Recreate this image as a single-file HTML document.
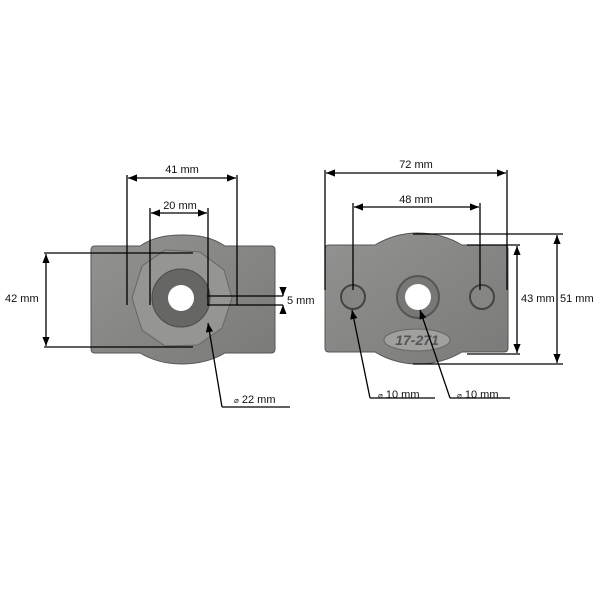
<!DOCTYPE html>
<html><head><style>
html,body{margin:0;padding:0;background:#fff;}
svg{display:block;}
text{font-family:"Liberation Sans",sans-serif;font-size:11px;fill:#111;}
</style></head><body>
<svg width="600" height="600" viewBox="0 0 600 600">
<defs>
<marker id="a" viewBox="0 0 10 10" refX="10" refY="5" markerWidth="7" markerHeight="7" orient="auto-start-reverse"><path d="M0,1 L10,5 L0,9 z" fill="#000"/></marker>
<linearGradient id="g" x1="0" y1="0" x2="1" y2="1"><stop offset="0" stop-color="#929290"/><stop offset="1" stop-color="#7a7a78"/></linearGradient>
</defs>
<!-- left plate -->
<path d="M95,246 H140 C155,236 170,235 182,235 C195,235 210,236 225,246 H271 Q275,246 275,250 V349 Q275,353 271,353 H225 C210,362 195,364 182,364 C170,364 155,362 140,353 H95 Q91,353 91,349 V250 Q91,246 95,246 Z" fill="url(#g)" stroke="#555" stroke-width="1"/>
<polygon points="165,250 200,252 224,270 232,298 222,328 198,345 165,346 142,330 132,298 142,266" fill="#959593" stroke="#666"/>
<circle cx="181" cy="298" r="29" fill="#666664" stroke="#4a4a48"/>
<circle cx="181" cy="298" r="13" fill="#fff"/>
<!-- right plate -->
<path d="M329,245 H375 C390,236 405,233 418,233 C432,233 447,236 462,245 H504 Q508,245 508,249 V348 Q508,352 504,352 H462 C447,361 432,364 418,364 C405,364 390,361 375,352 H329 Q325,352 325,348 V249 Q325,245 329,245 Z" fill="url(#g)" stroke="#555"/>
<circle cx="353" cy="297" r="12" fill="#858583" stroke="#444" stroke-width="2"/>
<circle cx="482" cy="297" r="12" fill="#858583" stroke="#444" stroke-width="2"/>
<circle cx="418" cy="297" r="21" fill="#777775" stroke="#555" stroke-width="2"/>
<circle cx="418" cy="297" r="13" fill="#fff"/>
<ellipse cx="417" cy="340" rx="33" ry="11" fill="#a0a09e" stroke="#666"/>
<text x="417" y="345" text-anchor="middle" style="font-weight:bold;font-style:italic;font-size:14px;fill:#555">17-271</text>
<g stroke="#000" stroke-width="1.3" fill="none">
<path d="M127,175 V305 M237,175 V305 M150,208 V305 M208,208 V305"/>
<path d="M128,178 H236" marker-start="url(#a)" marker-end="url(#a)"/>
<path d="M151,213 H207" marker-start="url(#a)" marker-end="url(#a)"/>
<path d="M44,253 H193 M44,347 H193"/>
<path d="M46,254 V346" marker-start="url(#a)" marker-end="url(#a)"/>
<path d="M207,296 H283 M207,305 H283"/>
<path d="M283,287 V296" marker-end="url(#a)"/><path d="M283,314 V305" marker-end="url(#a)"/>
<path d="M222,407 L208,323" marker-end="url(#a)"/><path d="M222,407 H290"/>
<path d="M325,170 V290 M507,170 V290 M353,203 V290 M480,203 V290"/>
<path d="M326,173 H506" marker-start="url(#a)" marker-end="url(#a)"/>
<path d="M354,207 H479" marker-start="url(#a)" marker-end="url(#a)"/>
<path d="M467,245 H520 M467,354 H520"/>
<path d="M517,246 V353" marker-start="url(#a)" marker-end="url(#a)"/>
<path d="M413,234 H563 M413,364 H563"/>
<path d="M557,235 V363" marker-start="url(#a)" marker-end="url(#a)"/>
<path d="M370,398 L352,310" marker-end="url(#a)"/><path d="M370,398 H435"/>
<path d="M450,398 L420,310" marker-end="url(#a)"/><path d="M450,398 H510"/>
</g>
<text x="182" y="173" text-anchor="middle">41 mm</text>
<text x="180" y="209" text-anchor="middle">20 mm</text>
<text x="5" y="302">42 mm</text>
<text x="287" y="304">5 mm</text>
<text x="234" y="403"><tspan style="font-size:8px">⌀</tspan> 22 mm</text>
<text x="416" y="168" text-anchor="middle">72 mm</text>
<text x="416" y="203" text-anchor="middle">48 mm</text>
<text x="521" y="302">43 mm</text>
<text x="560" y="302">51 mm</text>
<text x="378" y="398"><tspan style="font-size:8px">⌀</tspan> 10 mm</text>
<text x="457" y="398"><tspan style="font-size:8px">⌀</tspan> 10 mm</text>
</svg>
</body></html>
